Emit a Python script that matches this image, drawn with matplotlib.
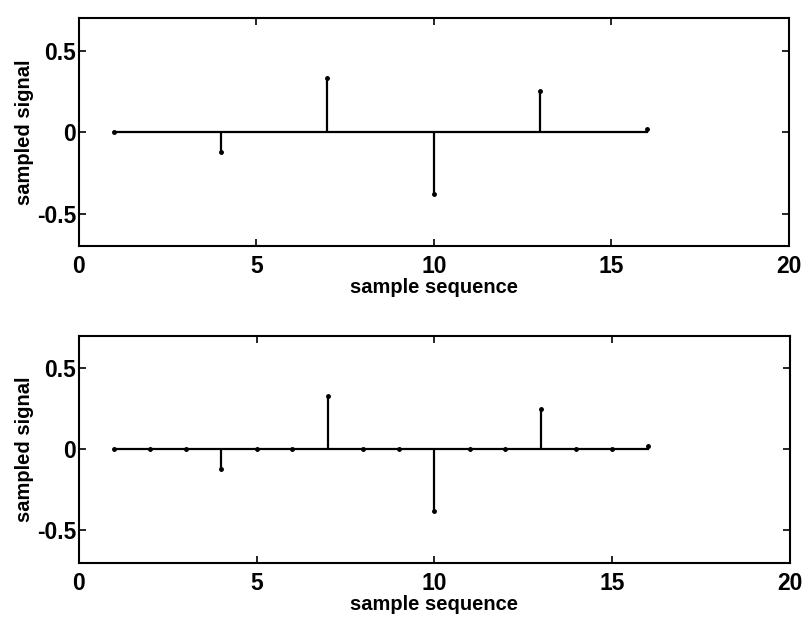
import numpy as np
import matplotlib
matplotlib.use("Agg")
import matplotlib.pyplot as plt

# sampled sequence, every third sample kept
n_coarse = [1, 4, 7, 10, 13, 16]
x_coarse = [0.0, -0.12, 0.33, -0.38, 0.25, 0.02]

# same sequence on every integer index
n_fine = list(range(1, 17))
x_fine = [0.0, 0.0, 0.0, -0.12, 0.0, 0.0, 0.33, 0.0, 0.0, -0.38,
          0.0, 0.0, 0.25, 0.0, 0.0, 0.02]

plt.rcParams['font.family'] = ['Liberation Sans', 'DejaVu Sans']
plt.rcParams['font.weight'] = 'bold'

fig = plt.figure(figsize=(8.05, 6.17), dpi=100)
ax1 = fig.add_axes([0.098, 0.601, 0.882, 0.37])
ax2 = fig.add_axes([0.098, 0.088, 0.883, 0.368])


def draw(ax, n, x):
    ml, sl, bl = ax.stem(n, x, linefmt='k-', markerfmt='k.', basefmt='k-')
    ml.set_markersize(5)
    sl.set_linewidth(1.6)
    bl.set_linewidth(1.6)
    ax.set_xlim(0, 20)
    ax.set_ylim(-0.7, 0.7)
    ax.set_xticks([0, 5, 10, 15, 20])
    ax.set_yticks([-0.5, 0, 0.5])
    ax.set_yticklabels(['-0.5', '0', '0.5'])
    ax.tick_params(direction='in', length=5, width=1.2, top=True, right=True,
                   labelsize=16.5)
    ax.tick_params(axis='x', pad=6.5)
    ax.tick_params(axis='y', pad=2)
    for s in ax.spines.values():
        s.set_linewidth(1.5)
    ax.set_xlabel('sample sequence', fontsize=14.5, fontweight='bold', labelpad=0)
    ax.set_ylabel('sampled signal', fontsize=14.5, fontweight='bold', labelpad=2)


draw(ax1, n_coarse, x_coarse)
draw(ax2, n_fine, x_fine)

fig.savefig('out.png', dpi=100)
